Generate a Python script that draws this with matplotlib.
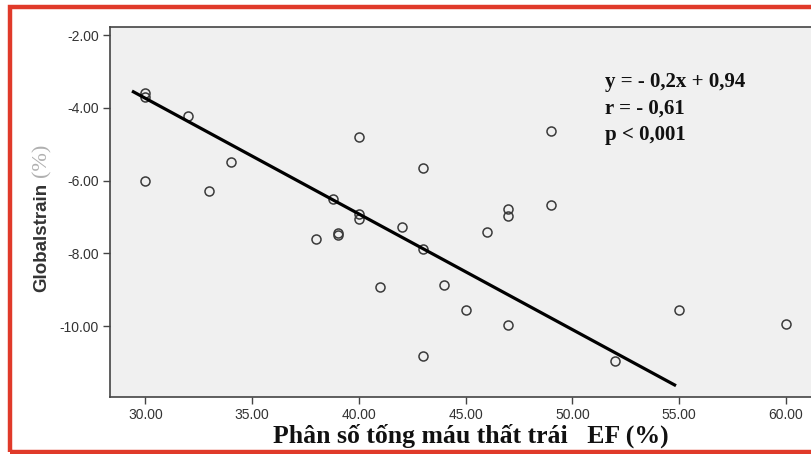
import matplotlib
matplotlib.use("Agg")
import matplotlib.pyplot as plt
from matplotlib.patches import Rectangle
from matplotlib.ticker import FormatStrFormatter

plt.rcParams['axes.unicode_minus'] = False

# Data
ef = [30, 30, 32, 34, 30, 33, 40, 43, 38.8, 40, 40, 42, 38, 39, 39, 46, 43, 41, 44,
      45, 43, 49, 49, 47, 47, 47, 52, 55, 60]
strain = [-3.60, -3.70, -4.22, -5.50, -6.02, -6.30, -4.80, -5.65, -6.50, -6.91, -7.05,
          -7.29, -7.60, -7.43, -7.51, -7.41, -7.87, -8.94, -8.86, -9.56, -10.82,
          -4.65, -6.66, -6.77, -6.98, -9.98, -10.96, -9.56, -9.95]
fit_x = [29.37, 54.85]
fit_y = [-3.54, -11.64]
x_ticks = [30, 35, 40, 45, 50, 55, 60]
y_ticks = [-2, -4, -6, -8, -10]
annot_lines = ["y = - 0,2x + 0,94", "r = - 0,61", "p < 0,001"]

W, H = 812, 454
fig = plt.figure(figsize=(W / 100, H / 100), dpi=100)
fig.patch.set_facecolor('white')

ax = fig.add_axes([110 / W, (H - 397) / H, (W - 110) / W + 0.01, 370 / H])
ax.set_facecolor('#f0f0f0')
ax.plot(ef, strain, linestyle='none', marker='o', ms=6.5, mfc='none', mec='#3a3a3a', mew=1.1)
ax.plot(fit_x, fit_y, color='black', lw=2.3, solid_capstyle='butt')

ax.set_xlim(28.34, 61.6)
ax.set_ylim(-11.95, -1.78)
ax.set_xticks(x_ticks)
ax.set_yticks(y_ticks)
ax.xaxis.set_major_formatter(FormatStrFormatter('%.2f'))
ax.yaxis.set_major_formatter(FormatStrFormatter('%.2f'))
for s in ['left', 'bottom', 'top']:
    ax.spines[s].set_color('#444444')
    ax.spines[s].set_linewidth(1.2)
ax.spines['right'].set_visible(False)
ax.tick_params(axis='both', colors='#444444', labelcolor='#333333', length=5, width=1,
               labelsize=10, pad=3)
for lab in ax.get_xticklabels() + ax.get_yticklabels():
    lab.set_family('Liberation Sans')

# annotation
for i, t in enumerate(annot_lines):
    fig.text(605 / W, 1 - (87 + 26.5 * i) / H, t, family='Liberation Serif', fontweight='bold',
             fontsize=15, color='#111111', ha='left', va='baseline')

# x label
fig.text(471 / W, 1 - 443 / H, "Phân số tống máu thất trái   EF (%)", family='Liberation Serif',
         fontweight='bold', fontsize=18.5, color='#111111', ha='center', va='baseline')

# y label (two colours)
fig.text(42 / W, 1 - 292 / H, "Globalstrain", family='Liberation Sans', fontweight='bold',
         fontsize=13.5, color='#333333', rotation=90, ha='center', va='bottom')
fig.text(42 / W, 1 - 177 / H, "(%)", family='Liberation Serif', fontsize=16,
         color='#b0b0b0', rotation=90, ha='center', va='bottom')

# red frame
fig.patches.append(Rectangle((10 / W, (H - 452) / H), (W + 20) / W, 445 / H,
                             transform=fig.transFigure, fill=False, edgecolor='#e03a2a',
                             linewidth=3.2, zorder=10))

fig.savefig('out.png', dpi=100)
